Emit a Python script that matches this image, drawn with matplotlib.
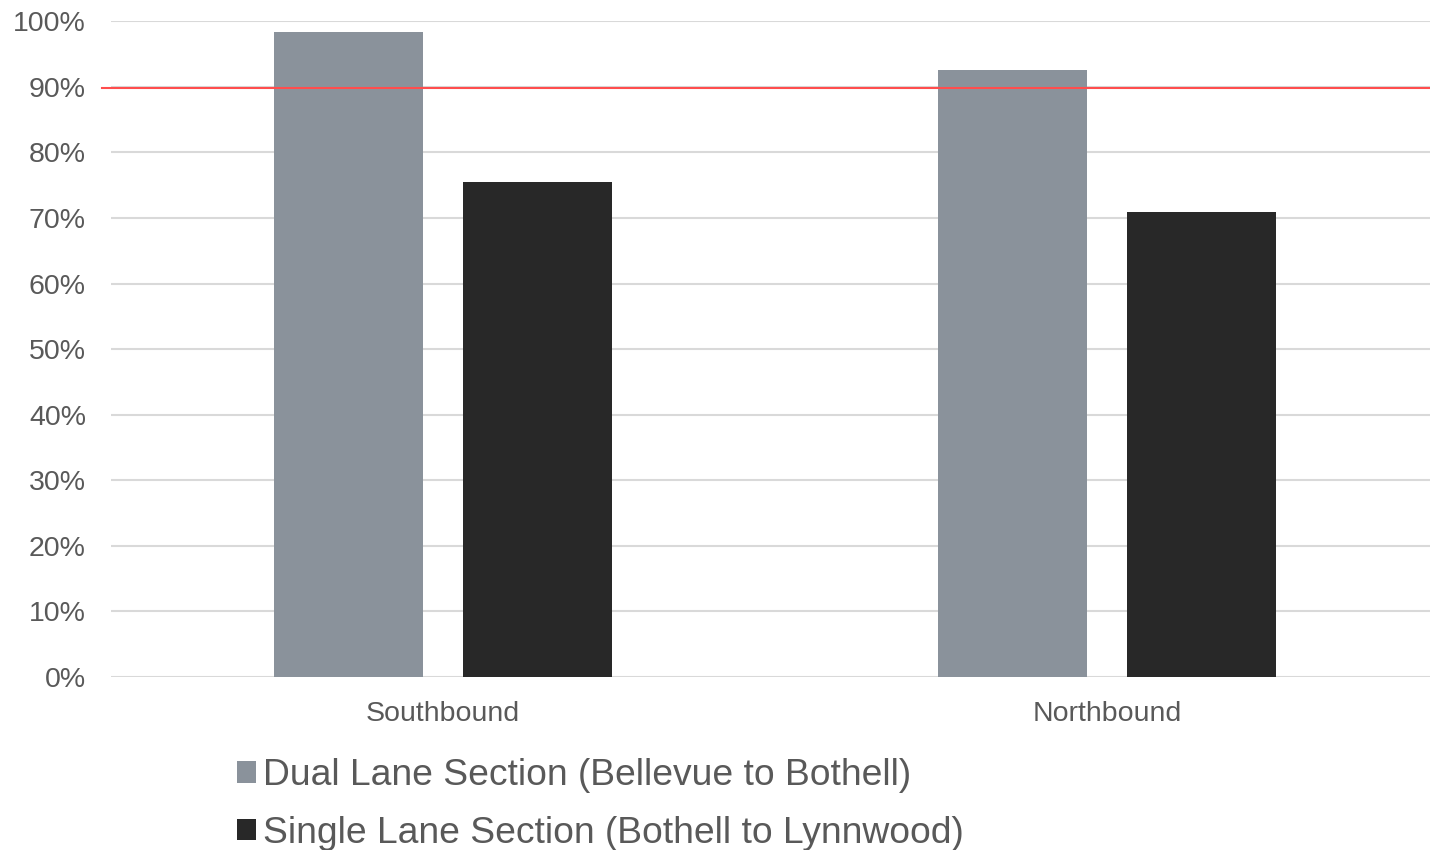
import matplotlib.pyplot as plt
import numpy as np

plt.rcParams['font.family'] = ['Liberation Sans', 'DejaVu Sans']

# data
directions = ["Southbound", "Northbound"]
dual_lane = [98.3, 92.5]
single_lane = [75.5, 70.9]
target = 89.8
series_names = ["Dual Lane Section (Bellevue to Bothell)",
                "Single Lane Section (Bothell to Lynnwood)"]
yticks = [0, 10, 20, 30, 40, 50, 60, 70, 80, 90, 100]

fig = plt.figure(figsize=(14.3, 8.5), dpi=100)
ax = fig.add_axes([0.0776, 0.2035, 0.9287, 0.7715])

x = np.arange(len(directions))
w = 0.2244
off = 0.1423
b1 = ax.bar(x - off, dual_lane, w, color="#8a929b", zorder=3)
b2 = ax.bar(x + off, single_lane, w, color="#282828", zorder=3)

ax.axhline(target, color="#ff4d4d", linewidth=1.5, zorder=4, xmin=-0.007, clip_on=False)

ax.set_xlim(-0.5, 1.5)
ax.set_ylim(0, 100)
ax.set_yticks(yticks)
ax.set_yticklabels([f"{t}%" for t in yticks])
ax.set_xticks(x)
ax.set_xticklabels(directions)
ax.grid(axis="y", color="#d9d9d9", linewidth=1.5, zorder=0)
ax.tick_params(axis="y", length=0, pad=18, labelsize=20.5, labelcolor="#595959")
ax.tick_params(axis="x", length=0, pad=17, labelsize=20.5, labelcolor="#595959")
for s in ax.spines.values():
    s.set_visible(False)

fig.legend([b1, b2], series_names, loc="upper left", bbox_to_anchor=(0.166, 0.108),
           frameon=False, fontsize=26.8, labelcolor="#595959", handlelength=0.5,
           handleheight=0.5, handletextpad=0.2, labelspacing=0.6,
           borderaxespad=0, borderpad=0)

fig.savefig("out.png", dpi=100)
